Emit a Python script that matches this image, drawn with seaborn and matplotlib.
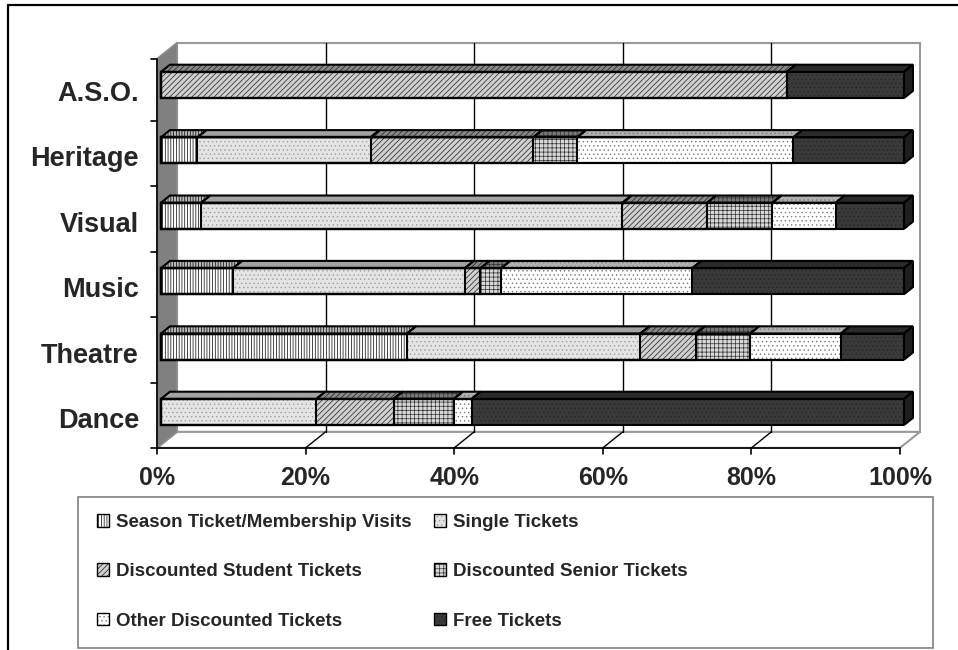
import matplotlib
matplotlib.use("Agg")
import matplotlib.pyplot as plt
from matplotlib.patches import Polygon, Rectangle, Patch
from matplotlib.lines import Line2D
from matplotlib.transforms import ScaledTranslation
import seaborn as sns
import numpy as np

categories = ["A.S.O.", "Heritage", "Visual", "Music", "Theatre", "Dance"]
series_names = ["Season Ticket/Membership Visits", "Single Tickets",
                "Discounted Student Tickets", "Discounted Senior Tickets",
                "Other Discounted Tickets", "Free Tickets"]
season = [0, 4.9, 5.4, 9.7, 33.1, 0]
single = [0, 23.3, 56.7, 31.2, 31.4, 20.9]
student = [84.2, 21.9, 11.4, 2.1, 7.5, 10.4]
senior = [0, 5.9, 8.8, 2.8, 7.3, 8.1]
other = [0, 29.1, 8.5, 25.7, 12.2, 2.4]
free = [15.8, 14.9, 9.2, 28.5, 8.5, 58.2]
x_ticks = [0, 20, 40, 60, 80, 100]
x_labels = ["0%", "20%", "40%", "60%", "80%", "100%"]

# face colour, hatch colour, hatch, top face colour
styles = [
    ("#ffffff", "#000000", "||||||", "#b8b8b8"),
    ("#e4e4e4", "#a0a0a0", "....", "#a2a2a2"),
    ("#d0d0d0", "#202020", "//////", "#888888"),
    ("#d8d8d8", "#303030", "++++", "#767676"),
    ("#ffffff", "#7a7a7a", "....", "#b0b0b0"),
    ("#3a3a3a", "#262626", "....", "#2a2a2a"),
]

sns.set_style("white")
plt.rcParams["font.family"] = ["Liberation Sans", "DejaVu Sans"]
plt.rcParams["font.weight"] = "bold"
plt.rcParams["hatch.linewidth"] = 0.5

fig = plt.figure(figsize=(9.58, 6.5), dpi=100)
ax = fig.add_axes([157 / 958, 205.3 / 650, 747 / 958, 392.4 / 650])

# pseudo 3d depth (data units for a full depth step)
DX, DY = 2.68, 0.245
BAR_H, BAR_D = 0.4, 0.45
Y_TOP, Y_FLOOR = -0.45, 5.5


def P(x, y, t):
    return (x + t * DX, y - t * DY)


values = np.array([season, single, student, senior, other, free])
cum = np.cumsum(values, axis=0)
starts = cum - values

# stacked bars: draw widest first, narrower ones on top
for k in reversed(range(len(series_names))):
    fc, hc, hatch, _ = styles[k]
    sns.barplot(x=cum[k], y=categories, orient="h", color=fc, saturation=1,
                width=BAR_H, hatch=hatch, edgecolor=hc, linewidth=0,
                errorbar=None, ax=ax, zorder=3)

for cont in ax.containers:
    for rect in cont:
        ax.add_patch(Rectangle(rect.get_xy(), rect.get_width(), rect.get_height(),
                               fill=False, ec="black", lw=1.5, zorder=5))

ax.set_xlim(0, 100)
ax.set_ylim(5.5, -0.5)

# walls and floor
ax.add_patch(Polygon([P(0, Y_TOP, 0.8), P(100, Y_TOP, 0.8), P(100, Y_FLOOR, 0.8),
                      P(0, Y_FLOOR, 0.8)], closed=True, fc="white", ec="#999999",
                     lw=1.5, zorder=0, clip_on=False))
ax.add_patch(Polygon([P(0, Y_FLOOR, -0.2), P(100, Y_FLOOR, -0.2), P(100, Y_FLOOR, 0.8),
                      P(0, Y_FLOOR, 0.8)], closed=True, fc="white", ec="#999999",
                     lw=1.5, zorder=0, clip_on=False))
for x in x_ticks[1:-1]:
    ax.add_line(Line2D(*zip(P(x, Y_TOP, 0.8), P(x, Y_FLOOR, 0.8)), color="black",
                       lw=1, zorder=0.5, clip_on=False))
    ax.add_line(Line2D(*zip(P(x, Y_FLOOR, -0.2), P(x, Y_FLOOR, 0.8)), color="black",
                       lw=1, zorder=0.5, clip_on=False))
ax.add_patch(Polygon([P(0, Y_TOP, -0.2), P(0, Y_TOP, 0.8), P(0, Y_FLOOR, 0.8),
                      P(0, Y_FLOOR, -0.2)], closed=True, fc="#808080", ec="#8c8c8c",
                     lw=1.2, zorder=1, clip_on=False))

# front axis lines and ticks
ax.add_line(Line2D(*zip(P(0, Y_TOP, -0.2), P(0, Y_FLOOR, -0.2)), color="black",
                   lw=1.2, zorder=1.5, clip_on=False))
ax.add_line(Line2D(*zip(P(0, Y_FLOOR, -0.2), P(100, Y_FLOOR, -0.2)), color="black",
                   lw=1.2, zorder=1.5, clip_on=False))
for x in x_ticks:
    x0, y0 = P(x, Y_FLOOR, -0.2)
    ax.add_line(Line2D([x0, x0], [y0, y0 + 0.09], color="black", lw=1.2, clip_on=False))
for b in [Y_TOP] + [i + 0.5 for i in range(len(categories))]:
    x0, y0 = P(0, b, -0.2)
    ax.add_line(Line2D([x0 - 0.8, x0], [y0, y0], color="black", lw=1.2, clip_on=False))

# top faces of each segment and the right side of each bar
for k in range(len(series_names)):
    _, hc, hatch, top = styles[k]
    for i in range(len(categories)):
        l, r = starts[k][i], cum[k][i]
        if r - l <= 0:
            continue
        y = i - BAR_H / 2
        verts = [P(l, y, 0), P(r, y, 0), P(r, y, BAR_D), P(l, y, BAR_D)]
        ax.add_patch(Polygon(verts, closed=True, fc=top, ec=hc, hatch=hatch, lw=0,
                             zorder=3, clip_on=False))
        ax.add_patch(Polygon(verts, closed=True, fill=False, ec="black", lw=1.5,
                             zorder=5, clip_on=False))
for i in range(len(categories)):
    r = cum[-1][i]
    verts = [P(r, i - BAR_H / 2, 0), P(r, i + BAR_H / 2, 0),
             P(r, i + BAR_H / 2, BAR_D), P(r, i - BAR_H / 2, BAR_D)]
    ax.add_patch(Polygon(verts, closed=True, fc="#1e1e1e", ec="black", lw=1.5,
                         zorder=5, clip_on=False))

# tick labels
sns.despine(ax=ax, left=True, bottom=True)
ax.set_xlabel("")
ax.set_ylabel("")
ax.set_xticks([P(x, 0, -0.2)[0] for x in x_ticks], x_labels)
ax.set_yticks(range(len(categories)), categories)
ax.tick_params(axis="x", length=0, pad=15, labelsize=18)
ax.tick_params(axis="y", length=0, pad=13, labelsize=19.5)
for lab in ax.get_xticklabels() + ax.get_yticklabels():
    lab.set_fontweight("bold")
for lab in ax.get_yticklabels():
    lab.set_transform(lab.get_transform() + ScaledTranslation(0, -0.06, fig.dpi_scale_trans))

# legend, filled row by row like the original
handles = []
for fc, hc, hatch, _ in styles:
    handles.append((Patch(fc=fc, ec=hc, hatch=hatch, lw=0),
                    Patch(fill=False, ec="black", lw=1)))
order = [0, 2, 4, 1, 3, 5]
fig.legend([handles[j] for j in order], [series_names[j] for j in order], ncol=2,
           loc="upper left", bbox_to_anchor=(97 / 958, 1 - 514 / 650), frameon=False,
           prop={"size": 13.5, "weight": "bold"}, handlelength=0.65,
           handleheight=0.65, handletextpad=0.35, columnspacing=1.2,
           labelspacing=1.72, borderpad=0, borderaxespad=0)
fig.add_artist(Rectangle((78 / 958, 2 / 650), 855 / 958, 151 / 650,
                         transform=fig.transFigure, fill=False, ec="#808080", lw=1.2))

# outer frame
fig.add_artist(Line2D([8 / 958, 8 / 958], [0, 1 - 5 / 650], color="black", lw=1.6,
                      transform=fig.transFigure))
fig.add_artist(Line2D([8 / 958, 1], [1 - 5 / 650, 1 - 5 / 650], color="black", lw=1.6,
                      transform=fig.transFigure))

fig.savefig("out.png", dpi=100)
plt.close(fig)
